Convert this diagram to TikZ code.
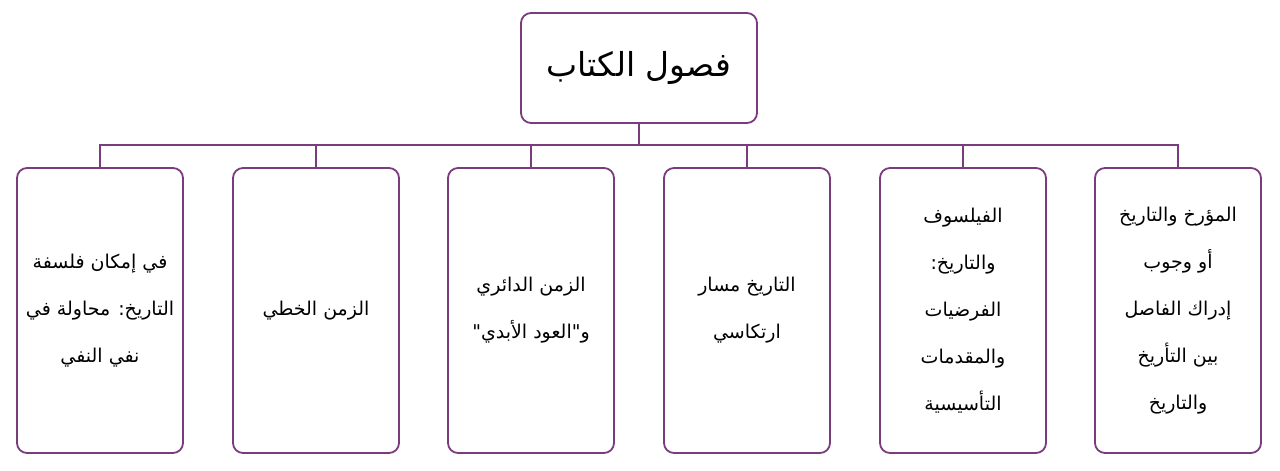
\documentclass[tikz,border=0pt]{standalone}
\usepackage{fontspec}
\newfontfamily\arabicfont[Script=Arabic]{DejaVu Sans}
\TeXXeTstate=1
\definecolor{viola}{RGB}{122,60,125}
\tikzset{
	capitolo/.style={draw=viola, line width=1.8pt, rounded corners=10pt, fill=white,
		minimum width=166pt, minimum height=285pt, align=center, inner sep=0pt,
		font={\arabicfont\fontsize{19}{47}\selectfont}},
	titolo/.style={draw=viola, line width=1.8pt, rounded corners=10pt, fill=white,
		minimum width=236pt, minimum height=110pt, align=center, inner sep=0pt,
		font={\arabicfont\fontsize{33}{40}\selectfont}},
	ramo/.style={draw=viola, line width=1.8pt}
}
\begin{document}
\begin{tikzpicture}[x=1pt, y=1pt]
		\useasboundingbox (0,0) rectangle (1280,471);
		
		% Titolo
		\node[titolo] (libro) at (639,403) {\beginR فصول الكتاب\endR};
		\coordinate (giunto) at (639,326);
		
		% Capitoli
		\node[capitolo] (c1) at (1178,160.5) {\beginR المؤرخ والتاريخ\endR\\ \beginR أو وجوب\endR\\ \beginR إدراك الفاصل\endR\\ \beginR بين التأريخ\endR\\ \beginR والتاريخ\endR};
		\node[capitolo] (c2) at (963,160.5) {\beginR الفيلسوف\endR\\ \beginR والتاريخ:\endR\\ \beginR الفرضيات\endR\\ \beginR والمقدمات\endR\\ \beginR التأسيسية\endR};
		\node[capitolo] (c3) at (747,160.5) {\beginR التاريخ مسار\endR\\ \beginR ارتكاسي\endR};
		\node[capitolo] (c4) at (531,160.5) {\beginR الزمن الدائري\endR\\ \beginR و"العود الأبدي"\endR};
		\node[capitolo] (c5) at (316,160.5) {\beginR الزمن الخطي\endR};
		\node[capitolo] (c6) at (100,160.5) {\beginR في إمكان فلسفة\endR\\ \beginR التاريخ: محاولة في\endR\\ \beginR نفي النفي\endR};
		
		% Rami
		\draw[ramo] (libro.south) -- (giunto);
		\draw[ramo] (c6.north) |- (giunto) -| (c1.north);
		\foreach \c in {c2,c3,c4,c5}
			\draw[ramo] (\c.north) -- (\c.north |- giunto);
	\end{tikzpicture}
\end{document}
